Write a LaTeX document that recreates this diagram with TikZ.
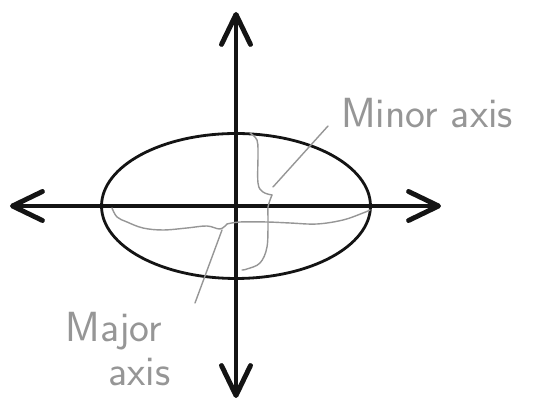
\documentclass[tikz,border=0pt]{standalone}
\usepackage{tikz}
\usepackage{xcolor}
\usetikzlibrary{shapes.geometric, arrows.meta, positioning}
\definecolor{pencilGray}{RGB}{150,150,150}
\definecolor{penInk}{RGB}{20,20,20}

\begin{document}
\begin{tikzpicture}[x=0.02cm, y=-0.02cm,
      >={Straight Barb[length=0.6cm, width=0.58cm, round]},
      axisline/.style={<->, line width=2.8pt, draw=penInk},
      oval/.style={ellipse, draw=penInk, line width=1.6pt, minimum width=5.38cm, minimum height=2.9cm, inner sep=0pt},
      brace/.style={pencilGray, line width=0.8pt, line cap=round, line join=round},
      note/.style={pencilGray, font=\sffamily\fontsize{24}{27}\selectfont, inner sep=0pt, align=center}
    ]
    \useasboundingbox (0,0) rectangle (556,401);

    \coordinate (origin) at (236,206);
    \coordinate (west) at (10,206);
    \coordinate (east) at (441,206);
    \coordinate (north) at (236,12);
    \coordinate (south) at (236,398);

    \node[oval] (oval) at (origin) {};

    \draw[axisline] (west) -- (east);
    \draw[axisline] (north) -- (south);

    \draw[brace] plot[smooth, tension=0.6] coordinates {(112,208) (117,217) (127,222) (143,228) (163,230) (187,228) (207,226) (220,229) (227,224)};
    \draw[brace] plot[smooth, tension=0.6] coordinates {(227,224) (240,222) (267,222) (290,223) (317,224) (343,220) (363,213) (370,210)};
    \draw[brace] plot[smooth, tension=0.6] coordinates {(250,133) (257,140) (258,153) (258,183) (263,192) (272,195)};
    \draw[brace] plot[smooth, tension=0.6] coordinates {(272,195) (268,207) (268,220) (267,247) (260,263) (247,269) (242,270)};

    \node[note] (minorlbl) at (427,113) {Minor axis};
    \node[note] (majorlbl) at (114,349) {Major\\[-2pt]\hspace*{1.2em}axis};

    \coordinate (minortip) at (273,187);
    \coordinate (minorend) at (328,126);
    \coordinate (majortip) at (222,230);
    \coordinate (majorend) at (195,303);

    \draw[brace] (minortip) -- (minorend);
    \draw[brace] (majortip) -- (majorend);
  \end{tikzpicture}
\end{document}
